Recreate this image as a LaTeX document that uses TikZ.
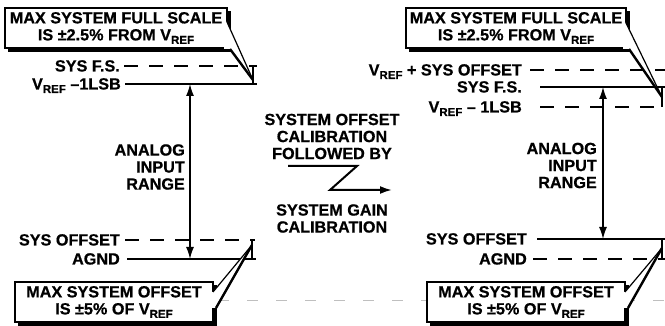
\documentclass[tikz,border=0pt]{standalone}
\usepackage{fontspec}
\setmainfont{Liberation Sans}[BoldFeatures={FakeBold=0.7}]
\usetikzlibrary{arrows.meta}
\newcommand{\vrf}{V\raisebox{-3.5pt}{\fontsize{11.5}{11.5}\selectfont REF}}
\begin{document}
\begin{tikzpicture}[x=1pt,y=-1pt,
  every node/.style={font=\fontsize{16.2}{17}\selectfont\bfseries, inner sep=0pt},
  lvl/.style={line width=2.6pt},
  lvld/.style={line width=2.6pt, dash pattern=on 14pt off 11pt},
  brk/.style={line width=1.3pt},
  rng/.style={line width=1.4pt, {Latex[length=12pt,width=8pt]}-{Latex[length=12pt,width=8pt]}},
  zz/.style={line width=2pt, -{Latex[length=12pt,width=8pt]}},
  cbox/.style={draw, fill=white, line width=1.3pt, align=center},
  shad/.style={line width=3.2pt},
  ptrA/.style={line width=1.2pt},
  ptrB/.style={line width=2.4pt},
  lab/.style={anchor=base east},
  art/.style={gray!50, line width=0.8pt, dash pattern=on 11pt off 18pt}
]
\useasboundingbox (0,0) rectangle (665,326);
% faint artefact line
\coordinate (g0) at (160,300);
\coordinate (g1) at (665,300);
\draw[art] (g0) -- (g1);

% ---------- left panel ----------
\coordinate (lfs0) at (124,66);  \coordinate (lfs1) at (257,66);
\coordinate (lvr0) at (125,84);  \coordinate (lvr1) at (257,84);
\coordinate (lso0) at (125,240); \coordinate (lso1) at (255,240);
\coordinate (lag0) at (127,259); \coordinate (lag1) at (256,259);
\draw[lvld] (lfs0) -- (lfs1);
\draw[lvl] (lvr0) -- (lvr1);
\draw[lvld] (lso0) -- (lso1);
\draw[lvl] (lag0) -- (lag1);
\node[lab] (tlfs) at (120,71.5) {SYS F.S.};
\node[lab] (tlvr) at (121,89.5) {\vrf\ –1LSB};
\node[lab] (tlso) at (120,245.5) {SYS OFFSET};
\node[lab] (tlag) at (120,264.5) {AGND};
\coordinate (lbt0) at (253,66); \coordinate (lbt1) at (253,84);
\coordinate (lbb0) at (252,240); \coordinate (lbb1) at (252,259);
\draw[brk] (lbt0) -- (lbt1);
\draw[brk] (lbb0) -- (lbb1);
\coordinate (lar0) at (190,84); \coordinate (lar1) at (190,259);
\draw[rng] (lar0) -- (lar1);
\node[align=right, anchor=east] (tlrange) at (185,167) {ANALOG\\INPUT\\RANGE};

% top-left callout
\node[cbox, minimum width=222pt, minimum height=40pt] (cb1) at (116,28)
  {MAX SYSTEM FULL SCALE\\IS ±2.5\% FROM \vrf};
\draw[shad] ([shift={(1.6,4)}]cb1.north east) -- ([shift={(1.6,1.6)}]cb1.south east) -- ([shift={(4,1.6)}]cb1.south west);
\coordinate (p1a) at (227,22); \coordinate (p1b) at (230,49); \coordinate (p1t) at (253,80);
\fill[white] (p1a) -- (p1t) -- (p1b) -- (224,49) -- (224,22) -- cycle;
\draw[ptrA] (p1a) -- (p1t);
\draw[ptrB] (p1b) -- (p1t);

% bottom-left callout
\node[cbox, minimum width=198pt, minimum height=40pt] (cb2) at (114,302)
  {MAX SYSTEM OFFSET\\IS ±5\% OF \vrf};
\draw[shad] ([shift={(1.6,4)}]cb2.north east) -- ([shift={(1.6,1.6)}]cb2.south east) -- ([shift={(4,1.6)}]cb2.south west);
\coordinate (p2a) at (213,292); \coordinate (p2b) at (216,308); \coordinate (p2t) at (252,245);
\fill[white] (p2a) -- (p2t) -- (p2b) -- (210,308) -- (210,292) -- cycle;
\draw[ptrA] (p2a) -- (p2t);
\draw[ptrB] (p2b) -- (p2t);

% ---------- middle ----------
\node[align=center] (tmid1) at (332,136.5) {SYSTEM OFFSET\\CALIBRATION\\FOLLOWED BY};
\node[align=center] (tmid2) at (332,218.5) {SYSTEM GAIN\\CALIBRATION};
\coordinate (z0) at (288,166); \coordinate (z1) at (357,166);
\coordinate (z2) at (330,190); \coordinate (z3) at (392,190);
\draw[zz] (z0) -- (z1) -- (z2) -- (z3);

% ---------- right panel ----------
\coordinate (rvo0) at (530,70);  \coordinate (rvo1) at (665,70);
\coordinate (rfs0) at (540,87);  \coordinate (rfs1) at (665,87);
\coordinate (rvr0) at (540,107); \coordinate (rvr1) at (665,107);
\coordinate (rso0) at (537,239); \coordinate (rso1) at (665,239);
\coordinate (rag0) at (533,259); \coordinate (rag1) at (665,259);
\draw[lvld] (rvo0) -- (rvo1);
\draw[lvl] (rfs0) -- (rfs1);
\draw[lvld] (rvr0) -- (rvr1);
\draw[lvl] (rso0) -- (rso1);
\draw[lvld] (rag0) -- (rag1);
\node[lab] (trvo) at (522,75.5) {\vrf\ + SYS OFFSET};
\node[lab] (trfs) at (522,92.5) {SYS F.S.};
\node[lab] (trvr) at (522,112.5) {\vrf\ – 1LSB};
\node[lab] (trso) at (527,244.5) {SYS OFFSET};
\node[lab] (trag) at (527,264.5) {AGND};
\coordinate (rbt0) at (662,87); \coordinate (rbt1) at (662,107);
\coordinate (rbb0) at (662,239); \coordinate (rbb1) at (662,259);
\draw[brk] (rbt0) -- (rbt1);
\draw[brk] (rbb0) -- (rbb1);
\coordinate (rar0) at (603,87); \coordinate (rar1) at (603,239);
\draw[rng] (rar0) -- (rar1);
\node[align=right, anchor=east] (trrange) at (597,165.5) {ANALOG\\INPUT\\RANGE};

% top-right callout
\node[cbox, minimum width=220pt, minimum height=40pt] (cb3) at (516,28)
  {MAX SYSTEM FULL SCALE\\IS ±2.5\% FROM \vrf};
\draw[shad] ([shift={(1.6,4)}]cb3.north east) -- ([shift={(1.6,1.6)}]cb3.south east) -- ([shift={(4,1.6)}]cb3.south west);
\coordinate (p3a) at (626,23); \coordinate (p3b) at (629,49); \coordinate (p3t) at (662,97);
\fill[white] (p3a) -- (p3t) -- (p3b) -- (623,49) -- (623,23) -- cycle;
\draw[ptrA] (p3a) -- (p3t);
\draw[ptrB] (p3b) -- (p3t);

% bottom-right callout
\node[cbox, minimum width=198pt, minimum height=40pt] (cb4) at (526,302)
  {MAX SYSTEM OFFSET\\IS ±5\% OF \vrf};
\draw[shad] ([shift={(1.6,4)}]cb4.north east) -- ([shift={(1.6,1.6)}]cb4.south east) -- ([shift={(4,1.6)}]cb4.south west);
\coordinate (p4a) at (625,292); \coordinate (p4b) at (628,308); \coordinate (p4t) at (662,248);
\fill[white] (p4a) -- (p4t) -- (p4b) -- (622,308) -- (622,292) -- cycle;
\draw[ptrA] (p4a) -- (p4t);
\draw[ptrB] (p4b) -- (p4t);
\end{tikzpicture}
\end{document}
